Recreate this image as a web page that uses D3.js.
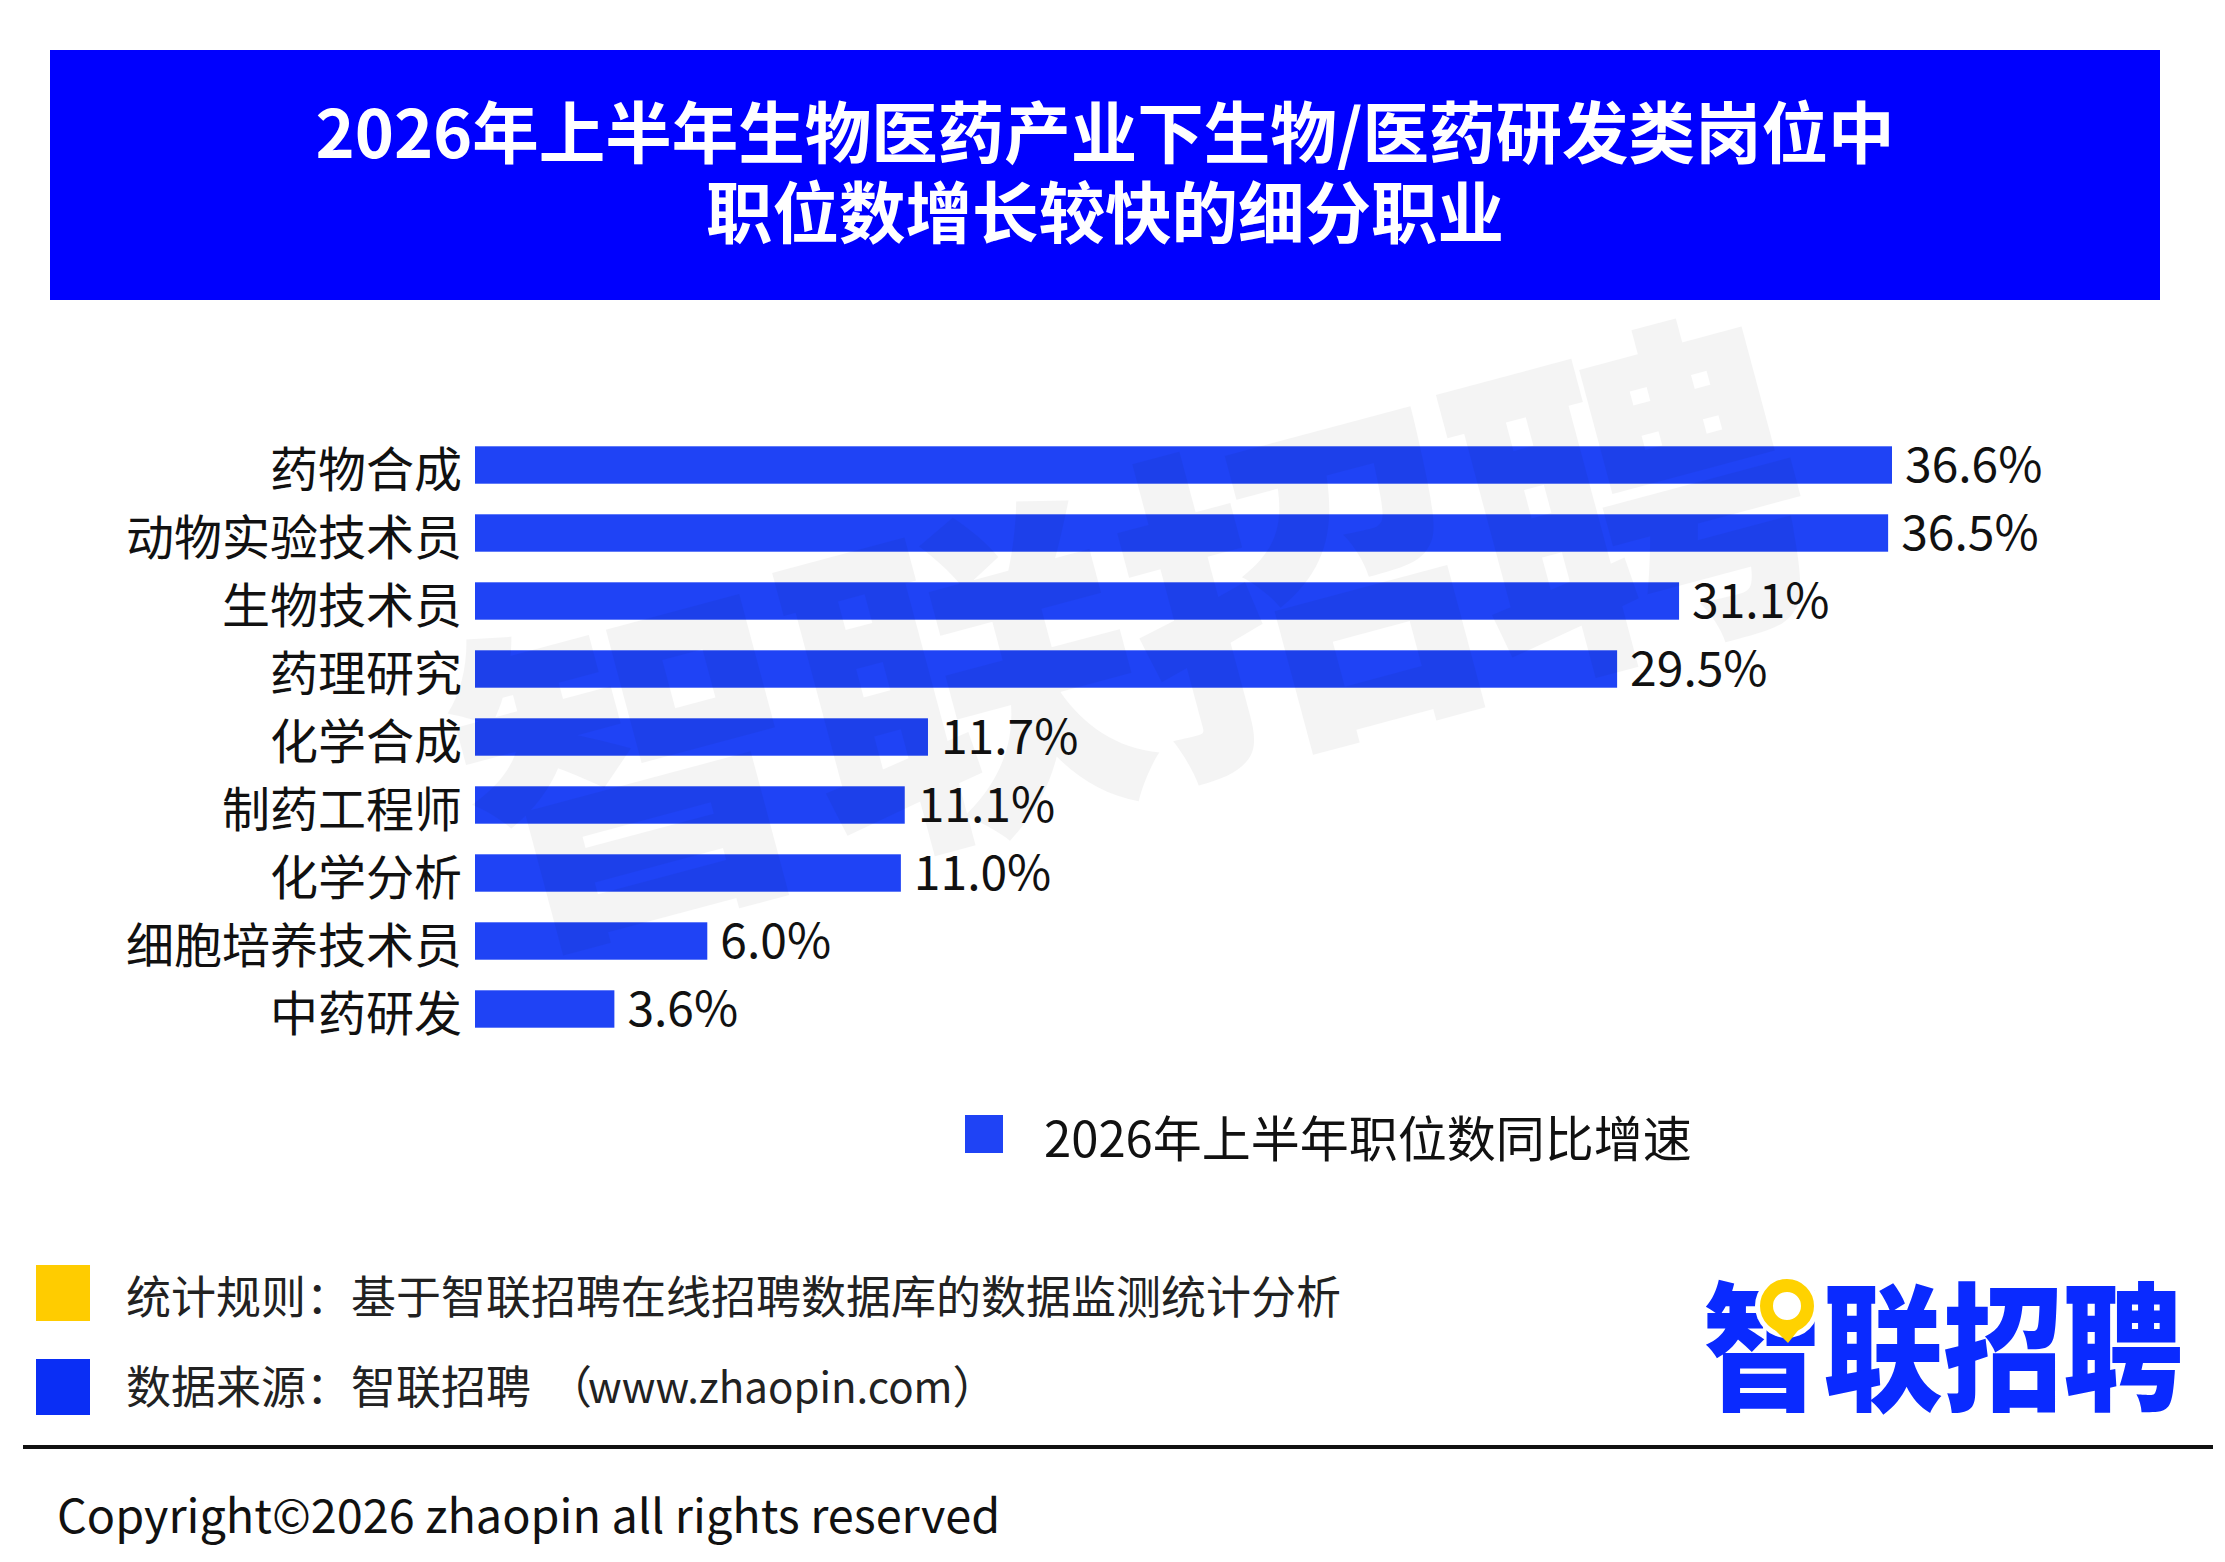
<!DOCTYPE html>
<html>
<head>
<meta charset="utf-8">
<script src="https://cdn.jsdelivr.net/npm/d3@7"></script>
<style>
  html, body { margin: 0; padding: 0; background: #fff; }
  svg { display: block; font-family: "Noto Sans CJK SC", "Noto Sans", sans-serif; }
</style>
</head>
<body>
<svg id="chart" width="2225" height="1562"></svg>
<script>
// data
const titleLines = ["2026年上半年生物医药产业下生物/医药研发类岗位中", "职位数增长较快的细分职业"];
const categories = ["药物合成", "动物实验技术员", "生物技术员", "药理研究", "化学合成", "制药工程师", "化学分析", "细胞培养技术员", "中药研发"];
const growth = [36.6, 36.5, 31.1, 29.5, 11.7, 11.1, 11.0, 6.0, 3.6];
const seriesName = "2026年上半年职位数同比增速";
const ruleNote = "统计规则：基于智联招聘在线招聘数据库的数据监测统计分析";
const sourceNote = ["数据来源：智联招聘", "（", "www.zhaopin.com", "）"];
const copyright = "Copyright©2026 zhaopin all rights reserved";

const barColor = "#1f43f5";
const svg = d3.select("#chart");

// title banner
svg.append("rect").attr("x", 50).attr("y", 50).attr("width", 2110).attr("height", 250).attr("fill", "#0000fe");
svg.selectAll("text.title").data(titleLines).join("text")
  .attr("class", "title")
  .attr("x", 1105).attr("y", (d, i) => 129 + i * 80)
  .attr("text-anchor", "middle").attr("dominant-baseline", "central")
  .attr("fill", "#fff").attr("font-size", 66.5).attr("font-weight", 700)
  .text(d => d);

// scales
const x = d3.scaleLinear().domain([0, 36.6]).range([475, 1892]);
const y = d3.scaleBand().domain(categories).range([431, 1043]).paddingInner(0.45).paddingOuter(0.225);
const rows = categories.map((c, i) => ({ cat: c, v: growth[i] }));

svg.append("g").selectAll("rect").data(rows).join("rect")
  .attr("x", x(0)).attr("y", d => y(d.cat))
  .attr("width", d => x(d.v) - x(0)).attr("height", y.bandwidth())
  .attr("fill", barColor);

svg.append("g").selectAll("text").data(rows).join("text")
  .attr("x", x(0) - 13).attr("y", d => y(d.cat) + y.bandwidth() / 2 + 1)
  .attr("text-anchor", "end").attr("dominant-baseline", "central")
  .attr("font-size", 48).attr("fill", "#111")
  .text(d => d.cat);

svg.append("g").selectAll("text").data(rows).join("text")
  .attr("x", d => x(d.v) + 13).attr("y", d => y(d.cat) + y.bandwidth() / 2 - 4)
  .attr("dominant-baseline", "central")
  .attr("font-size", 48).attr("fill", "#111")
  .text(d => d.v.toFixed(1) + "%");

// legend
svg.append("rect").attr("x", 965).attr("y", 1115).attr("width", 38).attr("height", 38).attr("fill", barColor);
svg.append("text").attr("x", 1044).attr("y", 1135).attr("dominant-baseline", "central")
  .attr("font-size", 49).attr("fill", "#111").text(seriesName);

// notes
svg.append("rect").attr("x", 36).attr("y", 1265).attr("width", 54).attr("height", 56).attr("fill", "#ffcc00");
svg.append("rect").attr("x", 36).attr("y", 1359).attr("width", 54).attr("height", 56).attr("fill", "#0a2ef5");
svg.append("text").attr("x", 126).attr("y", 1294).attr("dominant-baseline", "central")
  .attr("font-size", 45).attr("fill", "#222").text(ruleNote);
const src = svg.append("text").attr("x", 126).attr("y", 1384).attr("dominant-baseline", "central")
  .attr("font-size", 45).attr("fill", "#222");
src.selectAll("tspan").data(sourceNote).join("tspan")
  .attr("font-size", (d, i) => i === 2 ? 42 : 45)
  .attr("dx", (d, i) => i === 1 ? 16 : i === 2 ? -4 : null)
  .text(d => d);

// logo
const logo = svg.append("g");
logo.append("text").attr("x", 1703).attr("y", 1339).attr("dominant-baseline", "central")
  .attr("font-size", 138).attr("font-weight", 900).attr("fill", "#0a2aff")
  .attr("textLength", 480).attr("lengthAdjust", "spacingAndGlyphs")
  .text("智联招聘");
logo.append("circle").attr("cx", 1787).attr("cy", 1306).attr("r", 32).attr("fill", "#fff");
logo.append("path").attr("d", "M1775,1330 L1788,1343 L1804,1323 Z").attr("fill", "#ffd200");
logo.append("circle").attr("cx", 1787).attr("cy", 1306).attr("r", 20.5)
  .attr("fill", "none").attr("stroke", "#ffd200").attr("stroke-width", 13);

// rule + copyright
svg.append("line").attr("x1", 23).attr("x2", 2213).attr("y1", 1447).attr("y2", 1447)
  .attr("stroke", "#111").attr("stroke-width", 4);
svg.append("text").attr("x", 57).attr("y", 1533).attr("font-size", 46.8).attr("fill", "#111").text(copyright);

// watermark over the plot
svg.append("text").attr("transform", "translate(1127,615) rotate(-15)")
  .attr("text-anchor", "middle").attr("dominant-baseline", "central")
  .attr("font-size", 345).attr("font-weight", 900).attr("fill", "#000").attr("opacity", 0.04)
  .text("智联招聘");
</script>
</body>
</html>
